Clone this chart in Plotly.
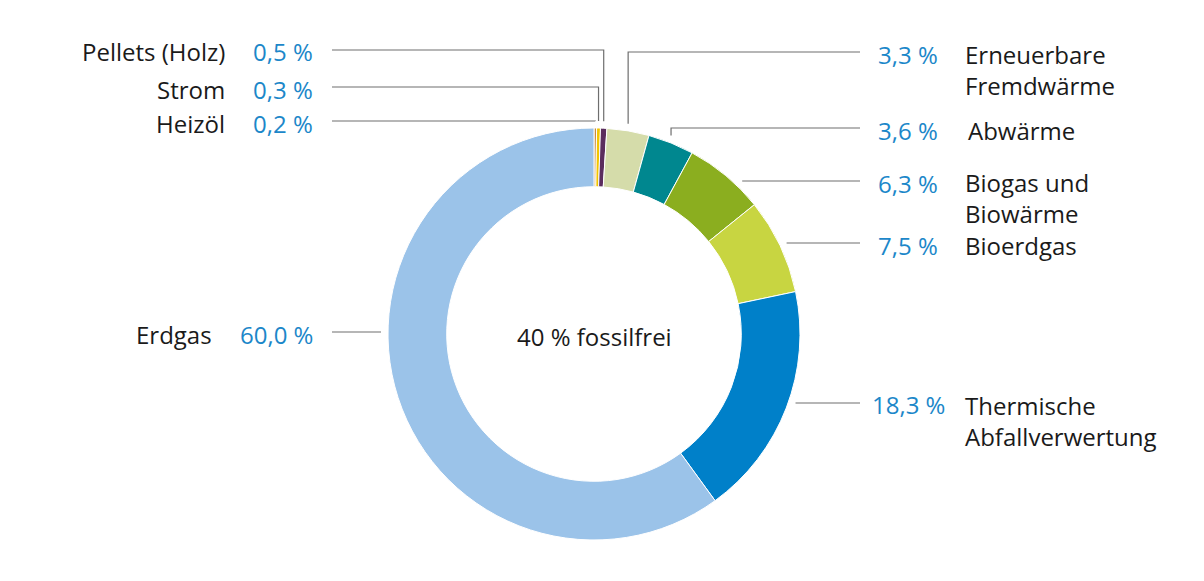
import math
import plotly.graph_objects as go

# ---- data (clockwise from 12 o'clock) ----
names = ["Heizöl", "Strom", "Pellets (Holz)", "Erneuerbare\nFremdwärme", "Abwärme",
         "Biogas und\nBiowärme", "Bioerdgas", "Thermische\nAbfallverwertung", "Erdgas"]
values = [0.2, 0.3, 0.5, 3.3, 3.6, 6.3, 7.5, 18.3, 60.0]
pct_labels = ["0,2 %", "0,3 %", "0,5 %", "3,3 %", "3,6 %", "6,3 %", "7,5 %", "18,3 %", "60,0 %"]
colors = ["#c98a3c", "#f2c500", "#5b2d5e", "#d5dcaa", "#00878f", "#8bae1f", "#c8d541",
          "#0080c9", "#9bc3e9"]
center_text = "40 % fossilfrei"

# ---- layout (pixels) ----
W, H = 1204, 581
CX, CY, R = 594, 334, 206
HOLE = 0.715
LINE_R = R + 7
label_y = [121, 87, 50, 52, 128, 181, 243, 403, 332]
side = ["L", "L", "L", "R", "R", "R", "R", "R", "L"]
name_x = [227, 227, 227, 963, 966, 963, 963, 963, 214]
LEFT_LINE_X, RIGHT_LINE_X = 332, 860
LEFT_PCT_X, RIGHT_PCT_CX = 315, 908
FONT = "Open Sans"
FS = 24
BLUE = "#1c87c9"
TXT = "#1a1a1a"
GREY = "#6e6e6e"


def px(x):
    return x / W


def py(y):
    return 1 - y / H


fig = go.Figure(go.Pie(
    values=values, labels=[n.replace("\n", " ") for n in names],
    marker=dict(colors=colors, line=dict(color="white", width=1)),
    hole=HOLE, sort=False, direction="clockwise", rotation=0,
    textinfo="none", hoverinfo="label+percent", showlegend=False,
    domain=dict(x=[px(CX - R), px(CX + R)], y=[py(CY + R), py(CY - R)]),
))

total = sum(values)
shapes, annos = [], []
cum = 0.0
for i, v in enumerate(values):
    a0 = cum / total * 2 * math.pi
    a1 = (cum + v) / total * 2 * math.pi
    cum += v
    ly = label_y[i]
    dy = CY - ly
    pts = None
    if abs(dy) < LINE_R:
        th = math.acos(dy / LINE_R)
        if side[i] == "L":
            th = 2 * math.pi - th
        if a0 <= th <= a1:
            pts = [(CX + LINE_R * math.sin(th), ly)]
    if pts is None:
        am = (a0 + a1) / 2
        ax = CX + R * math.sin(am)
        ddx = ax - CX
        ay2 = CY - math.sqrt(max(LINE_R ** 2 - ddx ** 2, 0))
        pts = [(ax, ly), (ax, ay2)]
    start = (LEFT_LINE_X, ly) if side[i] == "L" else (RIGHT_LINE_X, ly)
    allp = [start] + pts
    path = "M " + " L ".join(f"{px(x):.5f},{py(y):.5f}" for x, y in allp)
    shapes.append(dict(type="path", path=path, xref="paper", yref="paper",
                       line=dict(color=GREY, width=1.2)))
    lines = names[i].split("\n")
    ty = ly + 2
    if side[i] == "L":
        annos.append(dict(x=px(LEFT_PCT_X), y=py(ty), text=pct_labels[i], xanchor="right",
                          yanchor="middle", showarrow=False,
                          font=dict(family=FONT, size=FS, color=BLUE)))
        annos.append(dict(x=px(name_x[i]), y=py(ty), text=lines[0], xanchor="right",
                          yanchor="middle", showarrow=False,
                          font=dict(family=FONT, size=FS, color=TXT)))
    else:
        annos.append(dict(x=px(RIGHT_PCT_CX), y=py(ty), text=pct_labels[i], xanchor="center",
                          yanchor="middle", showarrow=False,
                          font=dict(family=FONT, size=FS, color=BLUE)))
        n = len(lines)
        annos.append(dict(x=px(name_x[i]), y=py(ty + (n - 1) * 15.5), text="<br>".join(lines),
                          xanchor="left", yanchor="middle", align="left", showarrow=False,
                          font=dict(family=FONT, size=FS, color=TXT)))

annos.append(dict(x=px(CX), y=py(CY + 3), text=center_text, showarrow=False,
                  xanchor="center", yanchor="middle",
                  font=dict(family=FONT, size=FS, color=TXT)))

fig.update_layout(width=W, height=H, margin=dict(l=0, r=0, t=0, b=0),
                  paper_bgcolor="white", plot_bgcolor="white",
                  shapes=shapes, annotations=annos)
fig.write_html("out.html")
